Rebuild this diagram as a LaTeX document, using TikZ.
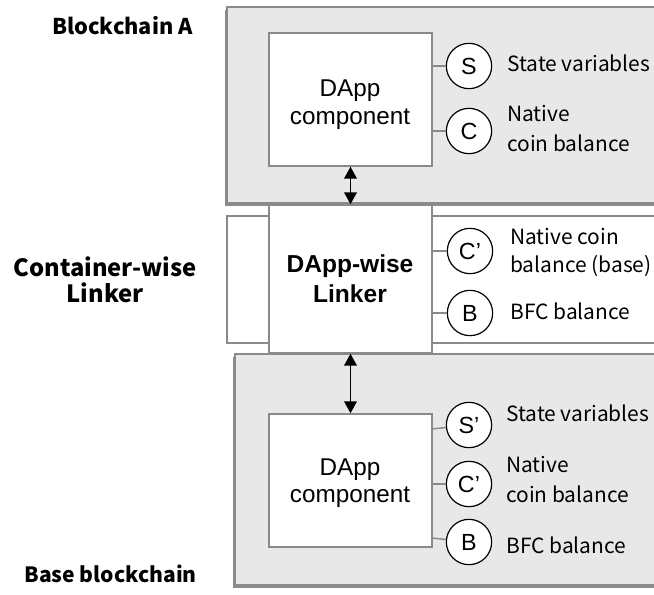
\documentclass[tikz,border=0pt]{standalone}
\usepackage{fontspec}
\setmainfont{Liberation Sans}
\newfontfamily\notefont{Noto Sans CJK KR}
\usetikzlibrary{arrows.meta,shadows,fit}
\definecolor{edgegray}{HTML}{8A8A8A}
\definecolor{panelgray}{HTML}{E8E8E8}
\begin{document}
\begin{tikzpicture}[x=0.75pt,y=-0.75pt,
  chainpanel/.style={draw=edgegray, line width=1.1pt, fill=panelgray, inner sep=0pt,
    drop shadow={shadow xshift=-1.6pt, shadow yshift=-2pt, opacity=0.45, fill=black}},
  linkpanel/.style={draw=edgegray, line width=1.1pt, fill=white, inner sep=0pt},
  compbox/.style={draw=edgegray, line width=1.1pt, fill=white, inner sep=0pt},
  boxtext/.style={anchor=base, inner sep=0pt, font=\fontsize{18.2}{21}\selectfont},
  linktext/.style={anchor=base, inner sep=0pt, font=\bfseries\fontsize{18.4}{22}\selectfont},
  dot/.style={circle, draw=black, line width=0.9pt, fill=white, minimum size=34pt, inner sep=0pt,
    font=\fontsize{17.5}{18}\selectfont},
  lab/.style={anchor=base west, inner sep=0pt, font=\notefont\fontsize{15.7}{18}\selectfont},
  side/.style={inner sep=0pt},
  conn/.style={draw=edgegray, line width=1.1pt},
  link/.style={draw=black, line width=1.3pt, {Triangle[length=9pt,width=9.5pt]}-{Triangle[length=9pt,width=9.5pt]}}
]
\useasboundingbox (0,0) rectangle (654,595);
\clip (0,0) rectangle (654,595);

% panels
\node[chainpanel, fit={(227,7) (700,203)}] (chainA) {};
\node[linkpanel, fit={(227,216) (700,343)}] (container) {};
\node[chainpanel, fit={(235,354) (700,585)}] (chainB) {};

% Blockchain A
\node[compbox, fit={(269,33) (432,166)}] (dappA) {};
\node[boxtext] (dappAt1) at (350,97) {DApp};
\node[boxtext] (dappAt2) at (350,125) {component};
\node[dot] (sA) at (469,66) {S};
\node[dot] (cA) at (469,131) {C};
\draw[conn] (dappA.east |- sA) -- (sA);
\draw[conn] (dappA.east |- cA) -- (cA);
\node[lab] (sAlab) at (507,72) {State variables};
\node[lab] (cAlab1) at (507,122) {Native};
\node[lab] (cAlab2) at (507,152) {coin balance};

% linker
\node[compbox, fit={(269,205) (432,353)}] (linker) {};
\node[linktext] (linkert1) at (350,273) {DApp-wise};
\node[linktext] (linkert2) at (350,303) {Linker};
\node[dot] (cL) at (470,251) {C’};
\node[dot] (bL) at (470,313) {B};
\draw[conn] (linker.east |- cL) -- (cL);
\draw[conn] (linker.east |- bL) -- (bL);
\node[lab] (cLlab1) at (510,245) {Native coin};
\node[lab] (cLlab2) at (510,273) {balance (base)};
\node[lab] (bLlab) at (510,320) {BFC balance};

% base blockchain
\node[compbox, fit={(269,414) (432,547)}] (dappB) {};
\node[boxtext] (dappBt1) at (350,475) {DApp};
\node[boxtext] (dappBt2) at (350,503) {component};
\node[dot] (sB) at (469,425) {S’};
\node[dot] (cB) at (469,484) {C’};
\node[dot] (bB) at (469,542) {B};
\coordinate (sBfoot) at (432,429);
\coordinate (bBfoot) at (432,538);
\draw[conn] (sBfoot) -- (sB);
\draw[conn] (dappB.east |- cB) -- (cB);
\draw[conn] (bBfoot) -- (bB);
\node[lab] (sBlab) at (506,422) {State variables};
\node[lab] (cBlab1) at (506,473) {Native};
\node[lab] (cBlab2) at (506,503) {coin balance};
\node[lab] (bBlab) at (506,553) {BFC balance};

% links between components
\draw[link] (dappA.south) -- (linker.north);
\draw[link] (linker.south) -- (dappB.north);

% side captions
\node[side, anchor=base east, font=\notefont\bfseries\fontsize{16.3}{18}\selectfont] (capA) at (193,35) {Blockchain A};
\node[side, anchor=base, font=\notefont\bfseries\fontsize{17.8}{19.5}\selectfont] (capL1) at (105,277) {Container-wise};
\node[side, anchor=base, font=\notefont\bfseries\fontsize{17.8}{19.5}\selectfont] (capL2) at (105,303) {Linker};
\node[side, anchor=base east, font=\notefont\bfseries\fontsize{15.8}{18}\selectfont] (capB) at (197,582) {Base blockchain};
\end{tikzpicture}
\end{document}
